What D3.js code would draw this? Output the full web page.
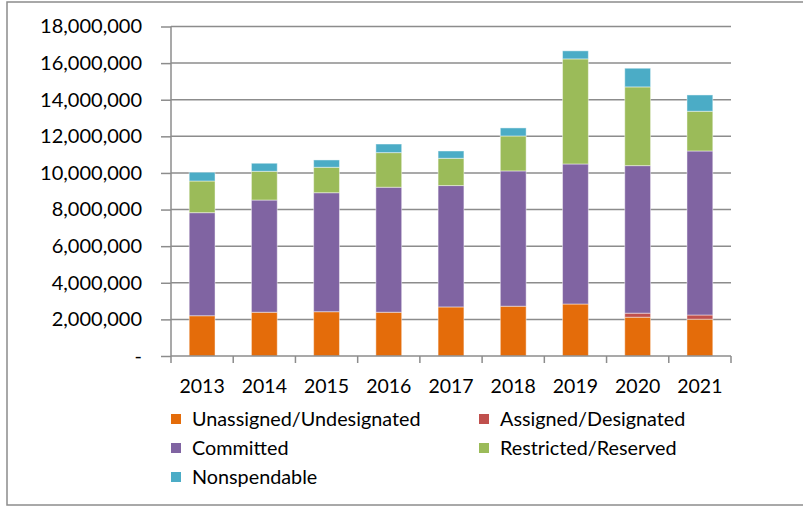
<!DOCTYPE html>
<html>
<head>
<meta charset="utf-8">
<script src="https://cdn.jsdelivr.net/npm/d3@7"></script>
<style>
  html, body { margin: 0; padding: 0; background: #fff; }
  svg { display: block; }
  text { font-family: Lato, "Open Sans", sans-serif; fill: #000; }
</style>
</head>
<body>
<svg id="chart" width="803" height="506"></svg>
<script>
// Fund balance by classification, 2013–2021
const years = ["2013", "2014", "2015", "2016", "2017", "2018", "2019", "2020", "2021"];
const unassigned  = [2200000, 2390000, 2420000, 2390000, 2680000, 2720000, 2840000, 2120000, 2010000];
const assigned    = [0, 0, 0, 0, 0, 0, 0, 220000, 230000];
const committed   = [5630000, 6130000, 6500000, 6830000, 6630000, 7390000, 7650000, 8060000, 8960000];
const restricted  = [1730000, 1570000, 1390000, 1890000, 1490000, 1910000, 5740000, 4300000, 2170000];
const nonspendable = [480000, 440000, 400000, 470000, 400000, 440000, 440000, 1020000, 890000];
const yTicks = [0, 2000000, 4000000, 6000000, 8000000, 10000000, 12000000, 14000000, 16000000, 18000000];

const seriesNames = ["Unassigned/Undesignated", "Assigned/Designated", "Committed", "Restricted/Reserved", "Nonspendable"];
const seriesValues = [unassigned, assigned, committed, restricted, nonspendable];
const colors = ["#E46C0A", "#C0504D", "#8064A2", "#9BBB59", "#4BACC6"];

const rows = years.map((y, i) => {
  const r = { year: y };
  seriesNames.forEach((n, k) => { r[n] = seriesValues[k][i]; });
  return r;
});
const stacked = d3.stack().keys(seriesNames)(rows);

const svg = d3.select("#chart");

// outer frame
svg.append("rect")
  .attr("x", 7).attr("y", 2).attr("width", 800).attr("height", 503)
  .attr("fill", "none").attr("stroke", "#8c8c8c").attr("stroke-width", 1.5);

const plotLeft = 171, plotRight = 731, plotTop = 26.5, plotBottom = 356;

const x = d3.scaleBand().domain(years).range([plotLeft, plotRight]).paddingInner(0.585).paddingOuter(0.2925);
const y = d3.scaleLinear().domain([0, 18000000]).range([plotBottom, plotTop]);

// horizontal gridlines
svg.append("g").selectAll("line").data(yTicks.filter(t => t > 0)).join("line")
  .attr("x1", plotLeft).attr("x2", plotRight)
  .attr("y1", d => y(d)).attr("y2", d => y(d))
  .attr("stroke", "#8c8c8c").attr("stroke-width", 1.5);

// y axis
const fmt = d3.format(",");
const yAxis = d3.axisLeft(y).tickValues(yTicks).tickSize(10).tickPadding(28)
  .tickFormat(d => d === 0 ? "-" : fmt(d));
const gy = svg.append("g").attr("transform", `translate(${plotLeft},0)`).call(yAxis);
gy.select(".domain").attr("stroke", "#8c8c8c").attr("stroke-width", 1.5).attr("d", `M0,${plotTop}V${plotBottom}`);
gy.selectAll(".tick line").attr("stroke", "#8c8c8c").attr("stroke-width", 1.5).attr("x1", -10).attr("x2", 0);
gy.selectAll(".tick text").attr("font-size", 20).attr("font-family", "Lato, sans-serif").attr("fill", "#000")
  .attr("x", -29);

// bars
svg.append("g").selectAll("g").data(stacked).join("g")
  .attr("fill", (d, i) => colors[i])
  .selectAll("rect").data(d => d).join("rect")
  .attr("x", d => x(d.data.year))
  .attr("width", x.bandwidth())
  .attr("y", d => y(d[1]))
  .attr("height", d => Math.max(0, y(d[0]) - y(d[1])))
  .attr("stroke", "rgba(255,255,255,0.45)").attr("stroke-width", d => (d[1] - d[0]) > 0 ? 1 : 0);

// x axis with ticks between categories
const step = x.step();
const bounds = d3.range(years.length + 1).map(i => plotLeft + i * step);
const gx = svg.append("g");
gx.append("line").attr("x1", plotLeft).attr("x2", plotRight).attr("y1", plotBottom).attr("y2", plotBottom)
  .attr("stroke", "#8c8c8c").attr("stroke-width", 1.5);
gx.selectAll("line.tk").data(bounds).join("line").attr("class", "tk")
  .attr("x1", d => d).attr("x2", d => d).attr("y1", plotBottom).attr("y2", plotBottom + 7)
  .attr("stroke", "#8c8c8c").attr("stroke-width", 1.5);
gx.selectAll("text").data(years).join("text")
  .attr("x", d => x(d) + x.bandwidth() / 2)
  .attr("y", 393)
  .attr("text-anchor", "middle")
  .attr("font-size", 19.5)
  .text(d => d);

// legend
const legendPos = [[171, 419], [479, 419], [171, 448], [479, 448], [171, 477]];
const lg = svg.append("g").selectAll("g").data(seriesNames).join("g")
  .attr("transform", (d, i) => `translate(${legendPos[i][0]},${legendPos[i][1]})`);
lg.append("rect").attr("x", 0).attr("y", -5).attr("width", 10).attr("height", 10)
  .attr("fill", (d, i) => colors[i]);
lg.append("text").attr("x", 21).attr("y", 7).attr("font-size", 19.8).text(d => d);
</script>
</body>
</html>
